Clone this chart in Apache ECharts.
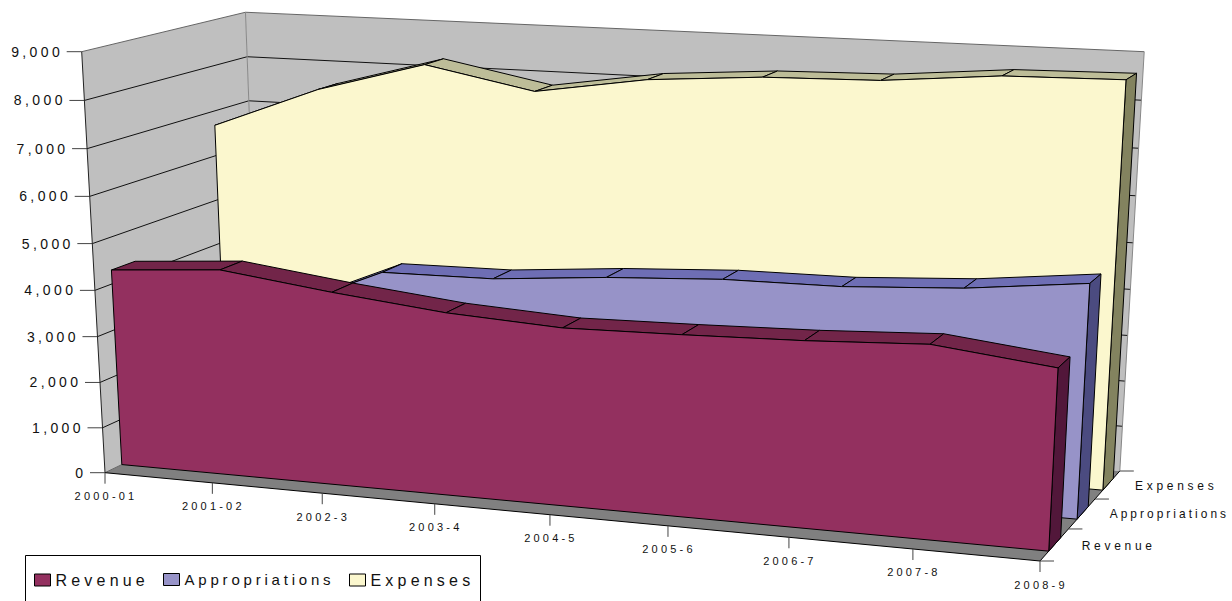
<!DOCTYPE html>
<html>
<head>
<meta charset="utf-8">
<style>
html,body{margin:0;padding:0;background:#fff}
#chart{width:1232px;height:601px;overflow:hidden}
#chart text[style*="14px"]{letter-spacing:3.4px}
#chart text[style*="11px"]{letter-spacing:3.2px}
#chart text[style*="12px"]{letter-spacing:3.7px}
#chart text[style*="11.9px"]{letter-spacing:3.05px}
#chart text[style*="16px"]{letter-spacing:4.2px}
#chart text[style*="15px"]{letter-spacing:3.8px}
</style>
<script src="https://cdn.jsdelivr.net/npm/echarts@6/dist/echarts.min.js"></script>
</head>
<body>
<div id="chart"></div>
<script>
const categories = ['2000-01','2001-02','2002-3','2003-4','2004-5','2005-6','2006-7','2007-8','2008-9'];
const seriesNames = ['Revenue','Appropriations','Expenses'];
const revenue = [4300,4470,4165,3910,3775,3820,3885,4000,3720];
const appropriations = [2900,3100,4120,4150,4350,4480,4500,4640,4910];
const expenses = [6680,7600,8260,7800,8170,8340,8390,8600,8640];
const valueTicks = [0,1000,2000,3000,4000,5000,6000,7000,8000,9000];

// Camera: projective map of the unit box (u along categories, v in depth, w up)
const O=[105,472.7], X=[1040,561], Y=[260,398], Z=[81.7,51.7];
const pa=-0.092, pb=0.096, pc=-0.045;
const A=[(1+pa)*X[0]-O[0],(1+pa)*X[1]-O[1]];
const B=[(1+pb)*Y[0]-O[0],(1+pb)*Y[1]-O[1]];
const C=[(1+pc)*Z[0]-O[0],(1+pc)*Z[1]-O[1]];
function project(u,v,w){
  const d=1+pa*u+pb*v+pc*w;
  return [(O[0]+u*A[0]+v*B[0]+w*C[0])/d,(O[1]+u*A[1]+v*B[1]+w*C[1])/d];
}
const G={left:100,top:100,width:800,height:400};
// data value -> unit box, via the hidden cartesian axes
function uw(api,cat,val){
  const p=api.coord([cat,val]);
  return [(p[0]-G.left)/G.width,(G.top+G.height-p[1])/G.height];
}
function at(api,cat,val,v){const q=uw(api,cat,val);return project(q[0],v,q[1]);}

const bands={Revenue:[0.10,0.24],Appropriations:[0.44,0.58],Expenses:[0.77,0.91]};
const colors={
  Revenue:{front:'#93305F',top:'#722549',side:'#52173A'},
  Appropriations:{front:'#9793C8',top:'#6E6EB4',side:'#4B4B80'},
  Expenses:{front:'#FBF7CE',top:'#BDBD98',side:'#83835F'}
};
const edge={stroke:'#000',lineWidth:1,lineJoin:'round'};
function poly(points,fill){return {type:'polygon',shape:{points},style:Object.assign({fill},edge)};}

function slabRenderer(name,values){
  const b=bands[name],c=colors[name],n=values.length;
  return function(params,api){
    const i=params.dataIndex,kids=[];
    if(i<n-1){
      kids.push(poly([at(api,i,values[i],b[0]),at(api,i+1,values[i+1],b[0]),at(api,i+1,values[i+1],b[1]),at(api,i,values[i],b[1])],c.top));
    } else {
      kids.push(poly([at(api,i,0,b[0]),at(api,i,values[i],b[0]),at(api,i,values[i],b[1]),at(api,i,0,b[1])],c.side));
      const pts=[at(api,0,0,b[0])];
      values.forEach((val,k)=>pts.push(at(api,k,val,b[0])));
      pts.push(at(api,n-1,0,b[0]));
      kids.push(poly(pts,c.front));
    }
    return {type:'group',children:kids};
  };
}
function line(a,b,color,width){return {type:'line',shape:{x1:a[0],y1:a[1],x2:b[0],y2:b[1]},style:{stroke:color,lineWidth:width||1}};}

function wallsRenderer(params,api){
  const last=categories.length-1, top=valueTicks[valueTicks.length-1];
  const c00=at(api,0,0,0),c10=at(api,last,0,0),c11=at(api,last,0,1),c01=at(api,0,0,1);
  const t00=at(api,0,top,0),t11=at(api,last,top,1),t01=at(api,0,top,1);
  const kids=[];
  kids.push({type:'polygon',shape:{points:[c00,t00,t01,c01]},style:{fill:'#BFBFBF'}});
  kids.push({type:'polygon',shape:{points:[c01,t01,t11,c11]},style:{fill:'#BFBFBF'}});
  kids.push({type:'polygon',shape:{points:[c00,c10,c11,c01]},style:{fill:'#808080'}});
  valueTicks.forEach(t=>{
    const a=at(api,0,t,0),b=at(api,0,t,1),d=at(api,last,t,1);
    if(t>0&&t<top){kids.push(line(a,b,'#111'));kids.push(line(b,d,'#111'));}
    kids.push(line([a[0]-15,a[1]],a,'#444'));
    kids.push({type:'text',style:{text:t.toLocaleString('en-US'),x:a[0]-18.5,y:a[1],align:'right',verticalAlign:'middle',font:'14px "Liberation Sans"',fill:'#111'}});
  });
  kids.push(line(t00,t01,'#666'));kids.push(line(t01,t11,'#666'));kids.push(line(t11,c11,'#888'));kids.push(line(t01,c01,'#888'));
  kids.push(line(t00,c00,'#222'));kids.push(line(c00,c01,'#666'));
  kids.push(line(c00,c10,'#000'));kids.push(line(c10,c11,'#000'));
  categories.forEach((name,i)=>{
    const p=at(api,i,0,0);
    kids.push(line(p,[p[0],p[1]+11],'#444'));
    kids.push({type:'text',style:{text:name,x:p[0]+1,y:p[1]+23.5,align:'center',verticalAlign:'middle',font:'11px "Liberation Sans"',fill:'#111'}});
  });
  [0,1/3,2/3,1].forEach(v=>{
    const p=at(api,last,0,v);
    kids.push(line(p,[p[0]+14,p[1]],'#444'));
  });
  seriesNames.forEach(name=>{
    const b=bands[name],p=at(api,last,0,(b[0]+b[1])/2);
    const size=name==='Appropriations'?'11.9px':'12px';
    kids.push({type:'text',style:{text:name,x:p[0]+27,y:p[1]+1.5,align:'left',verticalAlign:'middle',font:size+' "Liberation Sans"',fill:'#111'}});
  });
  return {type:'group',children:kids};
}
function slabSeries(name,values){
  return {name,type:'custom',coordinateSystem:'cartesian2d',silent:true,animation:false,
    itemStyle:{color:colors[name].front},encode:{x:0,y:1},
    data:values.map((v,i)=>[i,v]),renderItem:slabRenderer(name,values)};
}
function legendFor(name,left,size){
  return {data:[name],left,top:572,orient:'horizontal',padding:0,selectedMode:false,icon:'rect',
    itemWidth:16,itemHeight:12,itemStyle:{borderColor:'#000',borderWidth:1},
    textStyle:{fontFamily:'Liberation Sans',fontSize:size,color:'#111'}};
}
const chart=echarts.init(document.getElementById('chart'),null,{renderer:'svg'});
chart.setOption({
  animation:false,
  backgroundColor:'#fff',
  grid:Object.assign({containLabel:false},G),
  xAxis:{type:'category',data:categories,boundaryGap:false,show:false},
  yAxis:{type:'value',min:0,max:9000,interval:1000,show:false},
  legend:[legendFor('Revenue',34,16),legendFor('Appropriations',163,15),legendFor('Expenses',349,16)],
  graphic:[{type:'rect',z:-1,shape:{x:25.5,y:555.5,width:455,height:60},style:{fill:'#fff',stroke:'#000',lineWidth:1}}],
  series:[
    {name:'Walls',type:'custom',coordinateSystem:'cartesian2d',silent:true,animation:false,encode:{x:0,y:1},data:[[0,0]],renderItem:wallsRenderer},
    slabSeries('Expenses',expenses),
    slabSeries('Appropriations',appropriations),
    slabSeries('Revenue',revenue)
  ]
});
</script>
</body>
</html>
